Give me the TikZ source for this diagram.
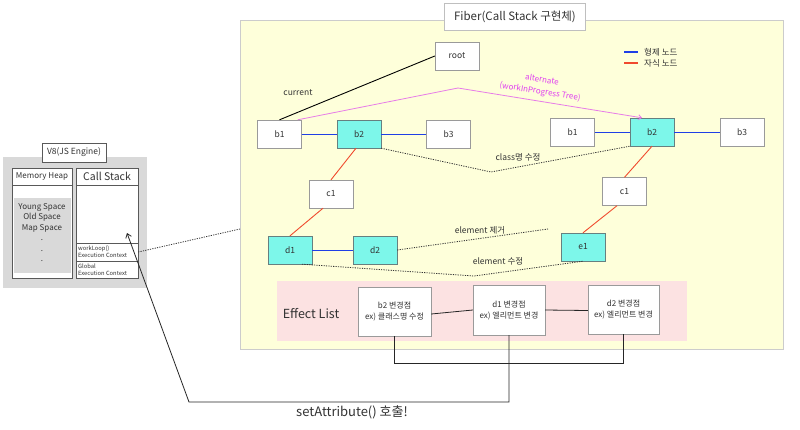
\documentclass[tikz,border=0pt]{standalone}
\usepackage{fontspec}
\setmainfont{Noto Sans CJK KR}
\usetikzlibrary{arrows.meta,calc}
\definecolor{bgyellow}{HTML}{FEFFDA}
\definecolor{pinkbg}{HTML}{FCE2E2}
\definecolor{cyanfill}{HTML}{7DF7EA}
\definecolor{nodeborder}{HTML}{9A9A9A}
\definecolor{sibblue}{HTML}{1F3FE6}
\definecolor{childred}{HTML}{F04A2E}
\definecolor{altpink}{HTML}{E77CE8}
\definecolor{alttext}{HTML}{E040F0}
\definecolor{v8gray}{HTML}{D9D9D9}
\definecolor{txt}{HTML}{333333}
\begin{document}
\begin{tikzpicture}[x=1pt,y=-1pt,
  every node/.style={text=txt},
  box/.style={draw=nodeborder, fill=white, minimum width=44pt, minimum height=28pt, inner sep=0pt, font=\fontsize{8.5}{10}\selectfont},
  hl/.style={box, fill=cyanfill, draw=gray!80!teal},
  elbox/.style={draw=nodeborder, fill=white, inner sep=0pt, align=center, font=\fontsize{8}{11}\selectfont},
  lbl/.style={font=\fontsize{8.5}{9}\selectfont, inner sep=1pt},
  sib/.style={draw=sibblue, line width=0.9pt},
  child/.style={draw=childred, line width=0.9pt},
  dots/.style={draw=txt, line width=0.8pt, dash pattern=on 1.2pt off 1.2pt},
  conn/.style={draw=black!85, line width=0.8pt},
  tiny/.style={font=\fontsize{5.8}{6.8}\selectfont, align=left, inner sep=1pt, anchor=west}
]
\useasboundingbox (0,0) rectangle (800,429);
\fill[white] (0,0) rectangle (800,429);

% ---------- V8 ----------
\fill[v8gray] (3,157) rectangle (147,288);
\node[draw=gray!70!black, fill=white, minimum width=64pt, minimum height=19pt, inner sep=0pt,
      font=\fontsize{8.5}{10}\selectfont] (v8) at (74,152.5) {V8(JS Engine)};
% memory heap
\draw[draw=gray!70!black, fill=white] (12,168) rectangle (72,278);
\draw[draw=gray!70!black] (12,185) -- (72,185);
\node[font=\fontsize{8}{9}\selectfont, inner sep=0pt] (mh) at (42,176.5) {Memory Heap};
\fill[v8gray] (13.5,198) rectangle (70.5,273);
\node[font=\fontsize{8}{10.5}\selectfont, align=center, inner sep=0pt, anchor=north] (spaces) at (42,203)
  {Young Space\\Old Space\\Map Space\\.\\.\\.};
% call stack
\draw[draw=gray!70!black, fill=white] (76,168) rectangle (138,278);
\draw[draw=gray!70!black] (76,185) -- (138,185);
\node[font=\fontsize{10.5}{12}\selectfont, inner sep=0pt] (cs) at (107,176.5) {Call Stack};
\node[draw=gray!70!black, minimum width=62pt, minimum height=18pt, inner sep=0pt] (wl) at (107,252) {};
\node[draw=gray!70!black, minimum width=62pt, minimum height=17pt, inner sep=0pt] (gl) at (107,269.5) {};
\node[tiny] at (77,252) {workLoop()\\Execution Context};
\node[tiny] at (77,269.5) {Global\\Execution Context};

% ---------- Fiber area ----------
\fill[bgyellow, draw=gray!40] (240,20) rectangle (783,349);
\node[draw=gray!50, fill=white, minimum width=141pt, minimum height=27pt, inner sep=0pt,
      font=\fontsize{11.5}{12}\selectfont] (fiber) at (515,16.5) {Fiber(Call Stack 구현체)};
\coordinate (fiberedge) at (240,229);
\draw[dots] (wl.east) -- (fiberedge);

% legend
\draw[sibblue, line width=1.2pt] (624,52) -- (638,52);
\node[lbl, anchor=west] (leg1) at (643,52) {형제 노드};
\draw[childred, line width=1.2pt] (624,63) -- (638,63);
\node[lbl, anchor=west] (leg2) at (643,63) {자식 노드};

% tree nodes
\node[box] (root) at (457,56) {root};
\node[box] (b1L) at (279.5,134) {b1};
\node[hl]  (b2L) at (359,134) {b2};
\node[box] (b3L) at (448.5,134) {b3};
\node[box] (b1R) at (572.5,132) {b1};
\node[hl]  (b2R) at (652,132) {b2};
\node[box] (b3R) at (742,132) {b3};
\node[box] (c1L) at (331,194) {c1};
\node[box] (c1R) at (624.5,191.5) {c1};
\node[hl]  (d1) at (290,250) {d1};
\node[hl]  (d2) at (375,250) {d2};
\node[hl]  (e1) at (583,247) {e1};

% current
\draw[black, line width=0.9pt] (root.west) -- (b1L.north);
\node[lbl] (current) at (298,93) {current};

% alternate
\coordinate (altpeak) at (458,88);
\draw[altpink, line width=0.8pt, -{Straight Barb[length=3pt,width=5pt]}]
  ([xshift=-4pt]b1L.north east) -- (altpeak) -- ([xshift=-10pt]b2R.north);
\node[text=alttext, rotate=-9, align=center, inner sep=0pt, font=\fontsize{8}{12}\selectfont] (altlbl) at (541,86)
  {alternate\\(workInProgress Tree)};

% siblings
\draw[sib] (b1L) -- (b2L);
\draw[sib] (b2L) -- (b3L);
\draw[sib] (b1R) -- (b2R);
\draw[sib] (b2R) -- (b3R);
\draw[sib] (d1) -- (d2);

% children
\draw[child] ([xshift=-3pt]b2L.south) -- (c1L.north);
\draw[child] ([xshift=-8pt]c1L.south) -- (d1.north);
\draw[child] (b2R.south) -- (c1R.north);
\draw[child] ([xshift=-7.5pt]c1R.south) -- (e1.north);

% dotted diffs
\coordinate (cls) at (491,172);
\draw[dots] (b2L.south east) -- (cls) -- (b2R.south west);
\node[lbl] (clslbl) at (518,157) {class명 수정};

\coordinate (rm) at (548,229);
\draw[dots] (d2.east) -- (rm);
\node[lbl] (rmlbl) at (480,230) {element 제거};

\coordinate (md) at (474,276);
\draw[dots] ([xshift=12pt]d1.south) -- (md) -- (e1.south);
\node[lbl] (mdlbl) at (498,261) {element 수정};

% ---------- Effect list ----------
\fill[pinkbg] (277,281) rectangle (687,341);
\node[font=\fontsize{12.5}{14}\selectfont] (eltitle) at (311,314) {Effect List};
\node[elbox, minimum width=73pt, minimum height=49pt] (EL1) at (394.5,311.5) {b2 변경점\\ex) 클래스명 수정};
\node[elbox, minimum width=72pt, minimum height=50pt] (EL2) at (509,310) {d1 변경점\\ex) 엘리먼트 변경};
\node[elbox, minimum width=71pt, minimum height=49pt] (EL3) at (623.5,309.5) {d2 변경점\\ex) 엘리먼트 변경};
\draw[conn] ([yshift=-2.5pt]EL1.east) -- (EL2.west);
\draw[conn] (EL2.east) -- ([yshift=-1pt]EL3.west);
\coordinate (br) at (623.5,363);
\draw[conn] (EL1.south) |- (br) -- (EL3.south);

% setAttribute
\coordinate (sacorner) at (189,402);
\coordinate (cstip) at (127,233);
\draw[conn, -{Straight Barb[length=4pt,width=6pt]}] (EL2.south) |- (sacorner) -- (cstip);
\node[font=\fontsize{13}{14}\selectfont] (satxt) at (352,412) {setAttribute() 호출!};
\end{tikzpicture}
\end{document}
